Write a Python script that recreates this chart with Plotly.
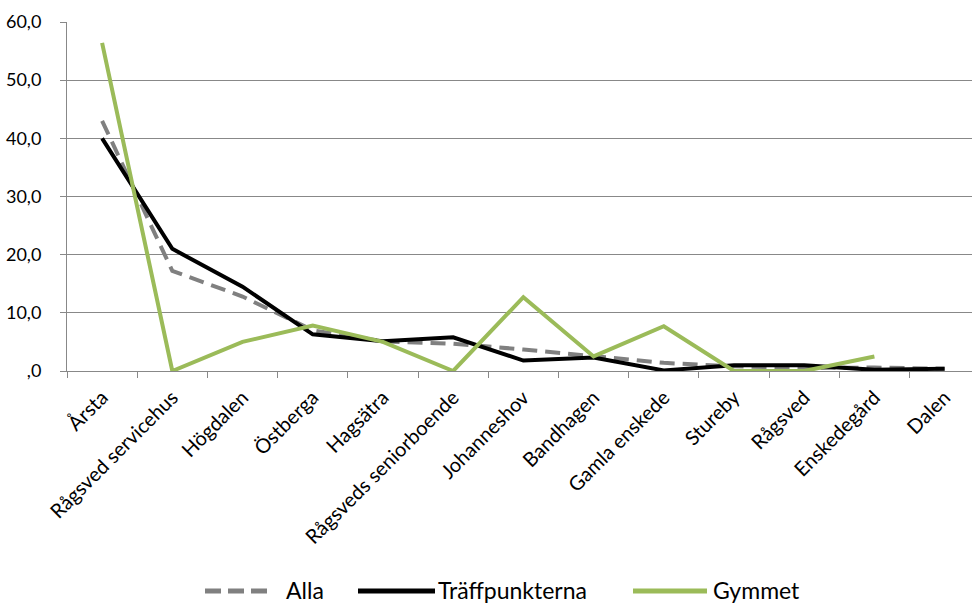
import plotly.graph_objects as go

# Andel (%) per träffpunkt
categories = ["Årsta", "Rågsved servicehus", "Högdalen", "Östberga", "Hagsätra",
              "Rågsveds seniorboende", "Johanneshov", "Bandhagen", "Gamla enskede",
              "Stureby", "Rågsved", "Enskedegård", "Dalen"]
alla = [43.0, 17.2, 12.8, 7.0, 5.1, 4.7, 3.7, 2.6, 1.4, 0.8, 0.5, 0.6, 0.4]
traffpunkterna = [40.0, 21.0, 14.5, 6.3, 5.1, 5.8, 1.8, 2.3, 0.1, 1.0, 1.0, 0.2, 0.4]
gymmet = [56.4, 0.0, 5.0, 7.8, 5.0, 0.0, 12.7, 2.5, 7.7, 0.0, 0.0, 2.5, None]

y_ticks = [0, 10, 20, 30, 40, 50, 60]
y_tick_labels = [",0", "10,0", "20,0", "30,0", "40,0", "50,0", "60,0"]

FONT = "Lato, 'Open Sans', sans-serif"
GRID = "#888888"

W, H = 972, 605
M_L, M_R, M_T, M_B = 67, 0, 22, 234

series = [
    dict(name="Alla", y=alla, color="#808080", dash="15px,8px"),
    dict(name="Träffpunkterna", y=traffpunkterna, color="#000000", dash="solid"),
    dict(name="Gymmet", y=gymmet, color="#9bbb59", dash="solid"),
]

fig = go.Figure()
for s in series:
    fig.add_trace(go.Scatter(x=categories, y=s["y"], name=s["name"], mode="lines",
                             line=dict(color=s["color"], width=4, dash=s["dash"]),
                             connectgaps=False, showlegend=False))

# Legend drawn below the plot: swatch span and text start, in pixels
legend_slots = [(205, 272, 285), (358, 435, 437), (633, 707, 712)]
legend_y = 591


def px_x(px):
    return (px - M_L) / (W - M_L - M_R)


def px_y(py):
    return (H - M_B - py) / (H - M_T - M_B)


shapes, annotations = [], []
for s, (x0, x1, xt) in zip(series, legend_slots):
    shapes.append(dict(type="line", xref="paper", yref="paper",
                       x0=px_x(x0), x1=px_x(x1), y0=px_y(legend_y), y1=px_y(legend_y),
                       line=dict(color=s["color"], width=5,
                                 dash="16px,7px" if s["dash"] != "solid" else "solid")))
    annotations.append(dict(xref="paper", yref="paper", x=px_x(xt), y=px_y(legend_y - 1),
                            xanchor="left", yanchor="middle", showarrow=False, borderpad=0,
                            text=s["name"], font=dict(size=23, family=FONT, color="#000000")))

fig.update_layout(
    width=W, height=H,
    margin=dict(l=M_L, r=M_R, t=M_T, b=M_B, autoexpand=False),
    paper_bgcolor="white", plot_bgcolor="white",
    font=dict(family=FONT, size=18, color="#000000"),
    showlegend=False,
    shapes=shapes, annotations=annotations,
    xaxis=dict(
        type="category", range=[-0.5, 12.39],
        tickangle=-45, tickfont=dict(size=20, family=FONT), ticklabelstandoff=6,
        showgrid=False, showline=True, linecolor=GRID, linewidth=1,
        ticks="outside", tickson="boundaries", ticklen=6, tickcolor=GRID,
    ),
    yaxis=dict(
        range=[0, 60], tickvals=y_ticks, ticktext=y_tick_labels,
        tickfont=dict(size=18, family=FONT), ticklabelstandoff=15,
        showgrid=True, gridcolor=GRID, gridwidth=1,
        showline=True, linecolor=GRID, linewidth=1,
        ticks="outside", ticklen=6, tickcolor=GRID, zeroline=False,
    ),
)

fig.write_html("out.html")
